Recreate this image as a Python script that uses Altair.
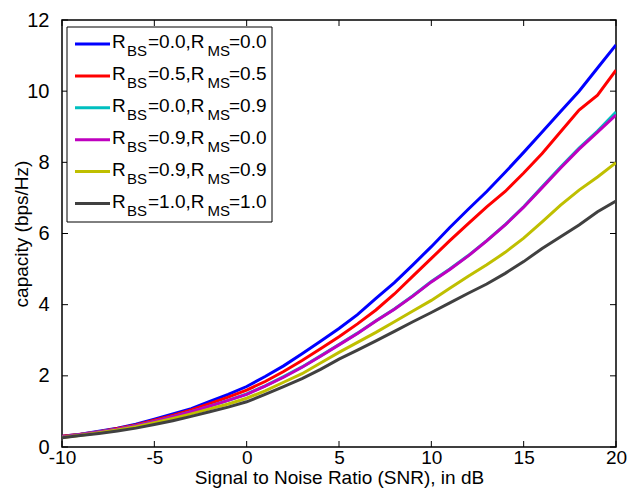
import altair as alt
import pandas as pd

# ---------------- data ----------------
snr = list(range(-10, 21))

cap_00_00 = [0.30, 0.36, 0.44, 0.53, 0.64, 0.78, 0.93, 1.08, 1.28, 1.48, 1.70,
             1.98, 2.28, 2.62, 2.97, 3.33, 3.72, 4.18, 4.62, 5.12, 5.63,
             6.17, 6.68, 7.18, 7.72, 8.28, 8.85, 9.43, 10.00, 10.65, 11.30]
cap_05_05 = [0.30, 0.36, 0.43, 0.52, 0.62, 0.75, 0.89, 1.04, 1.22, 1.40, 1.60,
             1.84, 2.12, 2.43, 2.76, 3.10, 3.46, 3.85, 4.30, 4.80, 5.30,
             5.80, 6.28, 6.75, 7.18, 7.70, 8.25, 8.86, 9.47, 9.89, 10.59]
cap_00_09 = [0.28, 0.35, 0.42, 0.50, 0.60, 0.72, 0.85, 0.99, 1.15, 1.31, 1.49,
             1.72, 1.98, 2.25, 2.56, 2.88, 3.20, 3.55, 3.88, 4.25, 4.65,
             5.00, 5.38, 5.80, 6.25, 6.75, 7.31, 7.87, 8.40, 8.88, 9.41]
cap_09_00 = [0.28, 0.35, 0.42, 0.50, 0.60, 0.72, 0.85, 0.99, 1.15, 1.31, 1.48,
             1.71, 1.96, 2.24, 2.55, 2.87, 3.19, 3.54, 3.87, 4.24, 4.64,
             4.99, 5.37, 5.79, 6.24, 6.74, 7.29, 7.84, 8.37, 8.85, 9.33]
cap_09_09 = [0.27, 0.33, 0.40, 0.48, 0.57, 0.68, 0.80, 0.93, 1.07, 1.21, 1.37,
             1.58, 1.82, 2.06, 2.36, 2.66, 2.94, 3.22, 3.52, 3.82, 4.12,
             4.46, 4.80, 5.12, 5.47, 5.87, 6.33, 6.80, 7.22, 7.59, 7.99]
cap_10_10 = [0.26, 0.32, 0.38, 0.45, 0.53, 0.63, 0.74, 0.86, 0.99, 1.12, 1.27,
             1.48, 1.70, 1.92, 2.18, 2.47, 2.72, 2.98, 3.25, 3.52, 3.78,
             4.05, 4.32, 4.58, 4.88, 5.21, 5.58, 5.91, 6.24, 6.61, 6.91]

rbs = ["0.0", "0.5", "0.0", "0.9", "0.9", "1.0"]
rms = ["0.0", "0.5", "0.9", "0.0", "0.9", "1.0"]
colors = ["#0000FF", "#FF0000", "#00BFBF", "#BF00BF", "#BFBF00", "#404040"]
series_values = [cap_00_00, cap_05_05, cap_00_09, cap_09_00, cap_09_09, cap_10_10]

x_ticks = [-10, -5, 0, 5, 10, 15, 20]
y_ticks = [0, 2, 4, 6, 8, 10, 12]

# ---------------- layout ----------------
W, H = 554, 427
FONT = "Liberation Sans"
TL = 6  # tick length

names = [f"R_BS={a},R_MS={b}" for a, b in zip(rbs, rms)]
rows = []
for k, (nm, vals) in enumerate(zip(names, series_values)):
    for s, v in zip(snr, vals):
        rows.append({"snr": s, "cap": v, "series": nm, "k": k})
df = pd.DataFrame(rows)

xs = alt.Scale(domain=[-10, 20], nice=False, zero=False)
ys = alt.Scale(domain=[0, 12], nice=False, zero=False)

lines = alt.Chart(df).mark_line(strokeWidth=3, clip=True).encode(
    x=alt.X("snr:Q", scale=xs,
            axis=alt.Axis(values=x_ticks, title="Signal to Noise Ratio (SNR), in dB",
                          labelExpr="'' + datum.value")),
    y=alt.Y("cap:Q", scale=ys,
            axis=alt.Axis(values=y_ticks, title="capacity (bps/Hz)",
                          labelExpr="'' + datum.value")),
    color=alt.Color("series:N", scale=alt.Scale(domain=names, range=colors), legend=None),
    detail="k:O",
)

xt_df = pd.DataFrame({"snr": x_ticks})
yt_df = pd.DataFrame({"cap": y_ticks})
tick_bottom = alt.Chart(xt_df).mark_rule(color="black", strokeWidth=1).encode(
    x=alt.X("snr:Q", scale=xs), y=alt.value(H), y2=alt.value(H - TL))
tick_top = alt.Chart(xt_df).mark_rule(color="black", strokeWidth=1).encode(
    x=alt.X("snr:Q", scale=xs), y=alt.value(0), y2=alt.value(TL))
tick_left = alt.Chart(yt_df).mark_rule(color="black", strokeWidth=1).encode(
    y=alt.Y("cap:Q", scale=ys), x=alt.value(0), x2=alt.value(TL))
tick_right = alt.Chart(yt_df).mark_rule(color="black", strokeWidth=1).encode(
    y=alt.Y("cap:Q", scale=ys), x=alt.value(W - TL), x2=alt.value(W))

# ---------------- custom legend (with subscripts) ----------------
LEG_X0, LEG_X1, LEG_Y0, LEG_Y1 = 5, 210, 7, 202
ROW0, ROW_STEP = 24, 31.9
SYM_X0, SYM_X1 = 13, 48
MAIN_FS, SUB_FS = 19, 15

box = alt.Chart(pd.DataFrame({"a": [0]})).mark_rect(
    fill="white", stroke="black", strokeWidth=1).encode(
    x=alt.value(LEG_X0), x2=alt.value(LEG_X1), y=alt.value(LEG_Y0), y2=alt.value(LEG_Y1))

sym_rows = []
txt_rows = []
for i, (a, b, c) in enumerate(zip(rbs, rms, colors)):
    yc = ROW0 + i * ROW_STEP
    sym_rows.append({"ly": yc, "col": c})
    base = yc + 4.3
    sub = base + 8.0
    segs = [("R", 50, base, MAIN_FS), ("BS", 65, sub, SUB_FS),
            (f"={a},R", 86, base, MAIN_FS), ("MS", 145.5, sub, SUB_FS),
            (f"={b}", 167, base, MAIN_FS)]
    for t, tx, ty, fs in segs:
        txt_rows.append({"txt": t, "tx": tx, "ty": ty, "fs": fs})

syms = alt.Chart(pd.DataFrame(sym_rows)).mark_rule(strokeWidth=3).encode(
    x=alt.value(SYM_X0), x2=alt.value(SYM_X1),
    y=alt.Y("ly:Q", scale=None),
    color=alt.Color("col:N", scale=None),
)
texts = alt.Chart(pd.DataFrame(txt_rows)).mark_text(
    align="left", baseline="alphabetic", font=FONT, color="black").encode(
    x=alt.X("tx:Q", scale=None),
    y=alt.Y("ty:Q", scale=None),
    text="txt:N",
    size=alt.Size("fs:Q", scale=None),
)

chart = alt.layer(tick_bottom, tick_top, tick_left, tick_right, lines, box, syms, texts).properties(
    width=W, height=H,
    autosize=alt.AutoSizeParams(type="none"),
    padding={"left": 62, "top": 20, "right": 11, "bottom": 44},
    background="white",
).configure_view(
    stroke="black", strokeWidth=1.5
).configure_axis(
    domain=False, ticks=False, grid=False, labelFlush=False,
    labelFont=FONT, labelColor="black",
    titleFont=FONT, titleFontSize=19, titleColor="black", titleFontWeight="normal",
).configure_axisX(
    labelFontSize=19, labelPadding=1, titlePadding=1,
).configure_axisY(
    labelFontSize=20, labelPadding=13, titlePadding=-5,
)

chart.save("out.html", embed_options={"renderer": "svg", "actions": False})
